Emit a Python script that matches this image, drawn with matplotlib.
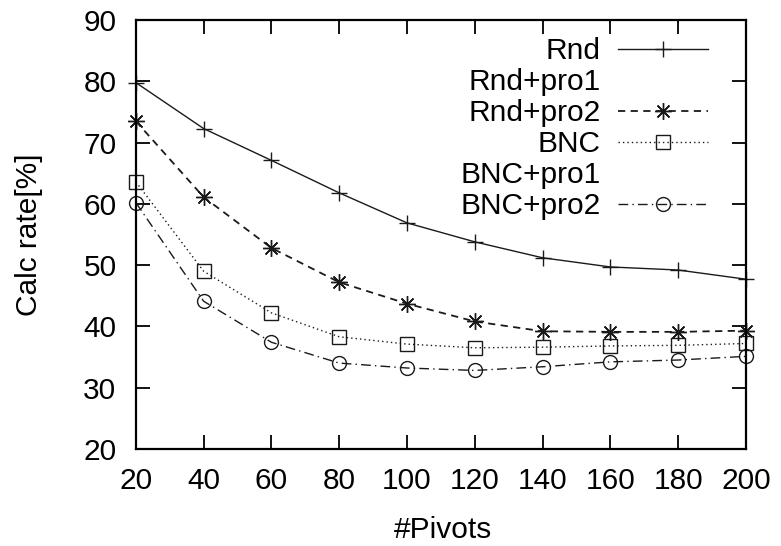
#!/usr/bin/env python
# coding: utf-8

import numpy as np
import matplotlib
matplotlib.use("Agg")
import matplotlib.pyplot as plt

pivots = [20, 40, 60, 80, 100, 120, 140, 160, 180, 200]

rnd = [79.8, 72.3, 67.1, 61.8, 56.9, 53.8, 51.2, 49.7, 49.2, 47.7]
rnd_pro1 = []
rnd_pro2 = [73.5, 61.1, 52.8, 47.2, 43.7, 40.8, 39.2, 39.1, 39.1, 39.3]
bnc = [63.6, 49.0, 42.2, 38.3, 37.1, 36.5, 36.6, 36.8, 36.9, 37.2]
bnc_pro1 = []
bnc_pro2 = [60.2, 44.1, 37.4, 34.0, 33.2, 32.8, 33.4, 34.2, 34.5, 35.1]

xticks = [20, 40, 60, 80, 100, 120, 140, 160, 180, 200]
yticks = [20, 30, 40, 50, 60, 70, 80, 90]

FS = 21.5


def main():
    plt.rcParams['font.family'] = ['Liberation Sans', 'DejaVu Sans']
    plt.rcParams['font.size'] = FS

    fig = plt.figure(figsize=(7.81, 5.46), dpi=100)
    ax = fig.add_axes([0.174, 0.178, 0.781, 0.785])

    ink = '#1a1a1a'
    common = dict(color=ink, clip_on=False, markerfacecolor='none',
                  markeredgecolor=ink, markeredgewidth=1.0)

    ax.plot(pivots, rnd, '-', marker='+', markersize=11, linewidth=1.0,
            label='Rnd', **common)
    # these two series have no visible line, only their legend text
    ax.plot(rnd_pro1, rnd_pro1, linestyle='none', marker='none',
            label='Rnd+pro1')
    ax.plot(pivots, rnd_pro2, linestyle=(0, (4, 3)), marker=(8, 2, 0),
            markersize=12, linewidth=1.3, label='Rnd+pro2', **common)
    ax.plot(pivots, bnc, linestyle=(0, (1, 2.2)), marker='s',
            markersize=10, linewidth=1.0, label='BNC', **common)
    ax.plot(bnc_pro1, bnc_pro1, linestyle='none', marker='none',
            label='BNC+pro1')
    ax.plot(pivots, bnc_pro2, linestyle=(0, (7, 3, 1, 3)), marker='o',
            markersize=10, linewidth=1.0, label='BNC+pro2', **common)

    ax.set_xlim(20, 200)
    ax.set_ylim(20, 90)
    ax.set_xticks(xticks)
    ax.set_yticks(yticks)

    ax.tick_params(axis='both', which='major', direction='in', length=10,
                   width=1.3, top=True, right=True, labelsize=FS)
    ax.tick_params(axis='x', pad=13)
    ax.tick_params(axis='y', pad=14)

    for side in ax.spines.values():
        side.set_linewidth(1.6)
        side.set_color('black')

    ax.set_xlabel('#Pivots', fontsize=FS)
    ax.set_ylabel('Calc rate[%]', fontsize=FS)
    ax.xaxis.set_label_coords(0.503, -0.19)
    ax.xaxis.label.set_va('center')
    ax.yaxis.set_label_coords(-0.175, 0.499)
    ax.yaxis.label.set_va('center')
    ax.yaxis.label.set_ha('center')

    leg = ax.legend(loc='upper right', bbox_to_anchor=(0.938, 0.96),
                    frameon=False, markerfirst=False, numpoints=1,
                    handlelength=3.0, handletextpad=0.6, borderpad=0,
                    borderaxespad=0, labelspacing=0.1, fontsize=FS)
    # right-align the legend entries, key text sits flush against the samples
    for col in leg._legend_handle_box.get_children():
        col.align = 'right'

    plt.savefig('out.png', dpi=100)


if __name__ == "__main__":
    main()
